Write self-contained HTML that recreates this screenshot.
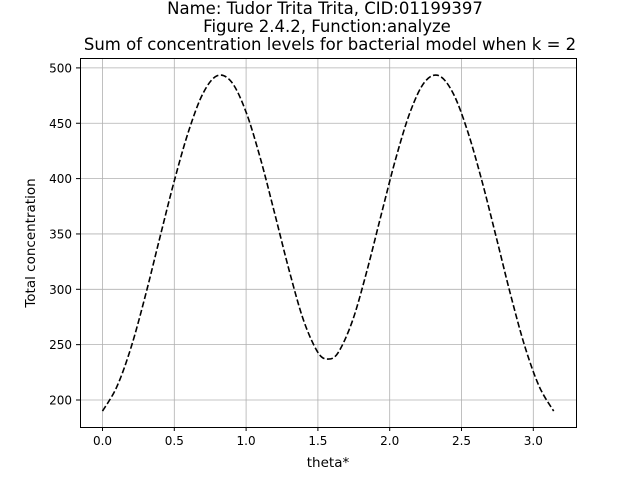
<!DOCTYPE html>
<html><head><meta charset="utf-8"><style>
body{margin:0;background:#fff;font-family:"DejaVu Sans","Liberation Sans",sans-serif}
svg text{font-family:"DejaVu Sans","Liberation Sans",sans-serif}
</style></head><body>
<svg id="chart" width="640" height="480" xmlns="http://www.w3.org/2000/svg">
<rect width="640" height="480" fill="#fff"/>
<g text-anchor="middle" font-size="16.5" fill="#000">
<text x="325" y="14">Name: Tudor Trita Trita, CID:01199397</text>
<text x="327" y="32">Figure 2.4.2, Function:analyze</text>
<text x="330" y="50">Sum of concentration levels for bacterial model when k = 2</text>
</g>
<g id="grid"></g><g id="ticks"></g><g id="series"></g>
<rect x="80.5" y="58.5" width="496" height="369" fill="none" stroke="#000" stroke-width="1"/>
<text x="328" y="467" text-anchor="middle" font-size="13.5">theta*</text>
<text transform="translate(35,243) rotate(-90)" text-anchor="middle" font-size="13.5">Total concentration</text>
</svg>
<script>
const thetas=[0,0.1,0.2,0.3,0.4,0.5,0.6,0.7,0.8,0.9,1.0,1.1,1.2,1.3,1.4,1.5,1.571,1.642,1.742,1.842,1.942,2.042,2.142,2.242,2.342,2.442,2.542,2.642,2.742,2.842,2.942,3.042,3.142];
const totals=[190,212,248,295,347,398,443,477,493,487,460,418,368,317,272,243,237,243,272,317,368,418,460,487,493,477,443,398,347,295,248,212,190];
const xTicks=[0,0.5,1.0,1.5,2.0,2.5,3.0];
const xTickLabels=["0.0","0.5","1.0","1.5","2.0","2.5","3.0"];
const yTicks=[200,250,300,350,400,450,500];
const yTickLabels=["200","250","300","350","400","450","500"];
const NS="http://www.w3.org/2000/svg";
const X=v=>102.5+v*143.6, Y=v=>400-(v-200)*1.107;
function mk(p,t,a){const e=document.createElementNS(NS,t);for(const k in a)e.setAttribute(k,a[k]);p.appendChild(e);return e;}
const g=document.getElementById('grid'),tk=document.getElementById('ticks'),s=document.getElementById('series');
xTicks.forEach((v,i)=>{const x=X(v);
 const l=mk(g,'line',{x1:x,x2:x,y1:58,y2:427,stroke:'#b0b0b0','stroke-width':0.8});
 
 mk(tk,'line',{x1:x,x2:x,y1:427,y2:431,stroke:'#000'});
 const t=mk(tk,'text',{x:x,y:445,'text-anchor':'middle','font-size':12});t.textContent=xTickLabels[i];
 });
yTicks.forEach((v,i)=>{const y=Y(v);
 const l=mk(g,'line',{x1:80,x2:576,y1:y,y2:y,stroke:'#b0b0b0','stroke-width':0.8});
 
 mk(tk,'line',{x1:76,x2:80,y1:y,y2:y,stroke:'#000'});
 const t=mk(tk,'text',{x:72,y:y+4.5,'text-anchor':'end','font-size':12});t.textContent=yTickLabels[i];
 });
const pts=thetas.map((t,i)=>[X(t),Y(totals[i])]);
let d='M'+pts[0][0]+','+pts[0][1];
for(let i=0;i<pts.length-1;i++){const p0=pts[i-1]||pts[i],p1=pts[i],p2=pts[i+1],p3=pts[i+2]||p2;
 d+=` C${p1[0]+(p2[0]-p0[0])/6},${p1[1]+(p2[1]-p0[1])/6} ${p2[0]-(p3[0]-p1[0])/6},${p2[1]-(p3[1]-p1[1])/6} ${p2[0]},${p2[1]}`;}
const path=mk(s,'path',{d:d,fill:'none',stroke:'#000','stroke-width':1.6,'stroke-dasharray':'6,2.6'});


</script>
</body></html>
